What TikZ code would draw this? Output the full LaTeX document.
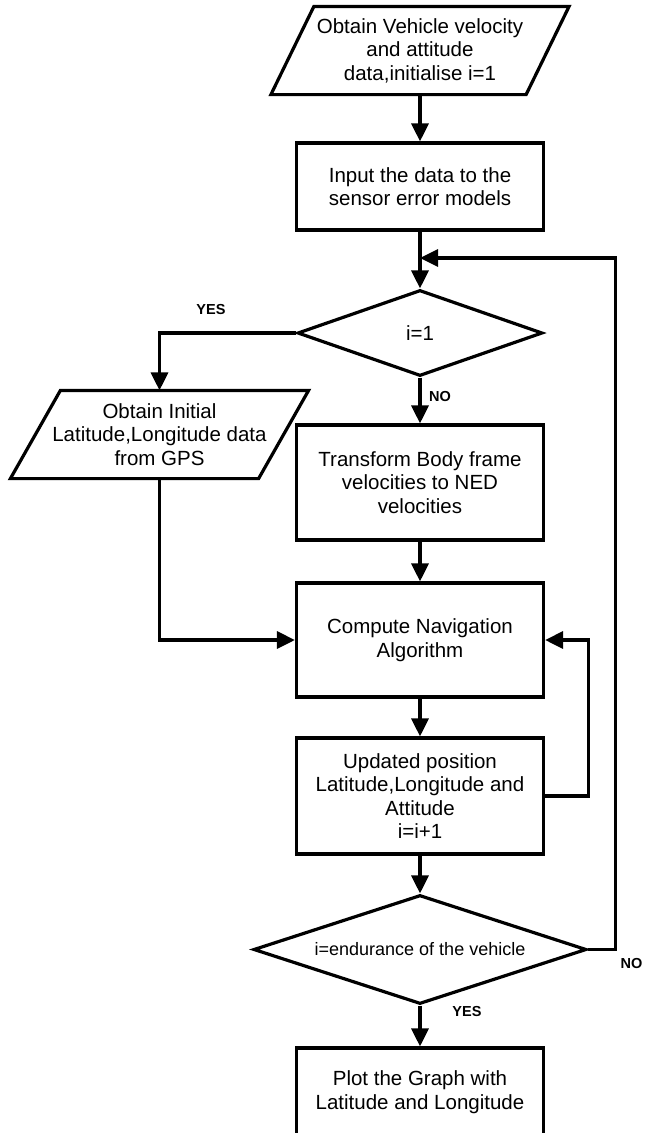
\documentclass[tikz,border=0pt]{standalone}
\usepackage{fontspec}
\setmainfont{Liberation Sans}
\usetikzlibrary{shapes.geometric,arrows.meta,positioning}

\begin{document}
\begin{tikzpicture}[x=1pt,y=-1pt,>={Triangle[width=17pt,length=18pt]},line width=3.2pt,
    every node/.style={align=center,inner sep=0pt,font=\fontsize{20.5}{23.5}\selectfont},
    box/.style={draw,rectangle,minimum width=247pt},
    io/.style={rectangle,minimum width=295pt,minimum height=85pt},
    decision/.style={draw,diamond},
    lbl/.style={font=\fontsize{14.5}{15}\selectfont\bfseries}]

    \useasboundingbox (0,0) rectangle (645,1133);

    \node[io] (obtain) at (420,50.5) {Obtain Vehicle velocity\\and attitude\\data,initialise i=1};
    \draw ([xshift=43pt]obtain.north west) -- (obtain.north east) -- ([xshift=-43pt]obtain.south east) -- (obtain.south west) -- cycle;
    \node[box,minimum height=87pt] (sensor) at (420,186.5) {Input the data to the\\sensor error models};
    \node[decision,aspect=2.85,minimum width=245pt,minimum height=86pt] (first) at (420,333) {i=1};
    \node[io] (gps) at (159.5,434.5) {Obtain Initial\\Latitude,Longitude data\\from GPS};
    \draw ([xshift=50pt]gps.north west) -- (gps.north east) -- ([xshift=-50pt]gps.south east) -- (gps.south west) -- cycle;
    \node[box,minimum height=115pt] (transform) at (420,482.5) {Transform Body frame\\velocities to NED\\velocities};
    \node[box,minimum height=114pt] (compute) at (420,640) {Compute Navigation\\Algorithm};
    \node[box,minimum height=116pt] (update) at (420,796) {Updated position\\Latitude,Longitude and\\Attitude\\i=i+1};
    \node[decision,aspect=3.05,minimum width=333pt,minimum height=109pt,font=\fontsize{18}{20}\selectfont] (endur) at (420,949.5) {i=endurance of the vehicle};
    \node[box,minimum height=88pt] (plot) at (420,1092) {Plot the Graph with\\Latitude and Longitude};

    \coordinate (join) at (420,258);

    % main column
    \draw[->] (obtain.south) -- (sensor.north);
    \draw (sensor.south) -- (join);
    \draw[->] (join) -- (first.north);
    \draw[->] (first.south) -- (transform.north);
    \draw[->] (transform.south) -- (compute.north);
    \draw[->] (compute.south) -- (update.north);
    \draw[->] (update.south) -- (endur.north);
    \draw[->] (endur.south) -- (plot.north);

    % side branches and loops
    \draw[->] (first.west) -| (gps.north);
    \draw[->] (gps.south) |- (compute.west);
    \draw[->] (update.east) -- ++(43,0) |- (compute.east);
    \draw[->] (endur.east) -- ++(27,0) |- (join);

    \node[lbl] (yes1) at (211,310) {YES};
    \node[lbl] (no1) at (440,397) {NO};
    \node[lbl] (yes2) at (467,1011) {YES};
    \node[lbl,anchor=east] (no2) at (644,963) {NO};
\end{tikzpicture}
\end{document}
